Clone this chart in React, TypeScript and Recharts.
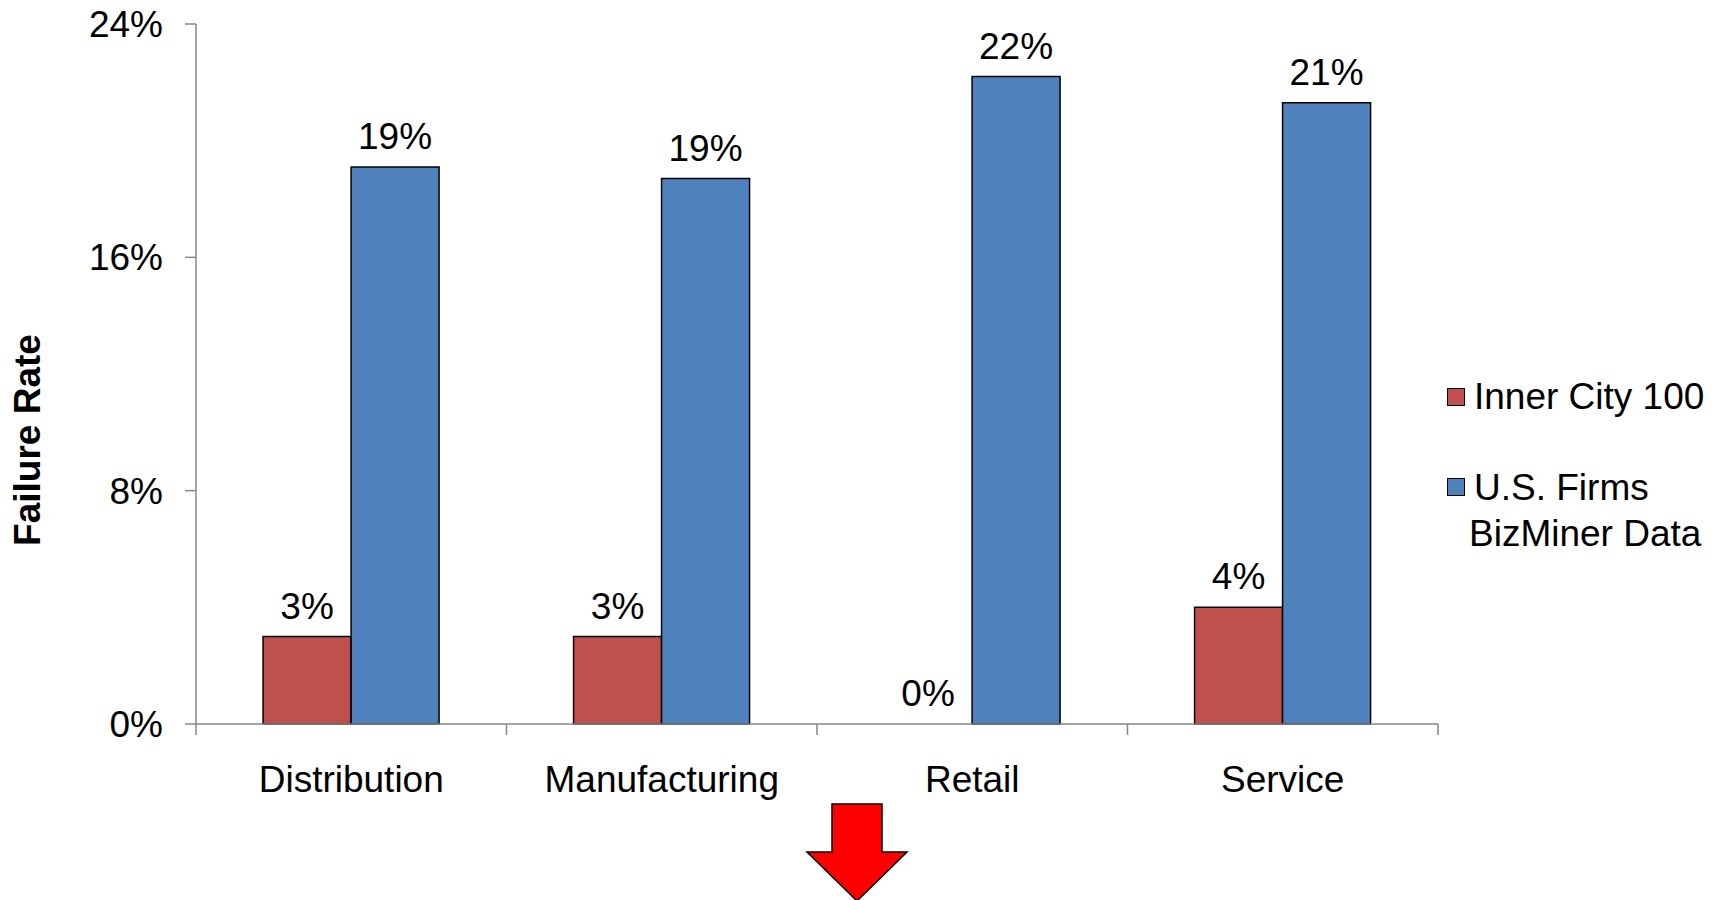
import React from "react";
import { BarChart, Bar, XAxis, YAxis, LabelList, Cell } from "recharts";

const categories = ["Distribution", "Manufacturing", "Retail", "Service"];
const innerCity = [3.0, 3.0, 0, 4.0];
const usFirms = [19.1, 18.7, 22.2, 21.3];
const yTicks = [0, 8, 16, 24];
const seriesNames = ["Inner City 100", "U.S. Firms BizMiner Data"];
const seriesColors = ["#C0504D", "#4F81BD"];

const data = categories.map((c, i) => ({
  name: c,
  inner: innerCity[i],
  us: usFirms[i],
}));

const W = 1723;
const H = 900;
const PLOT_LEFT = 196;
const PLOT_RIGHT = 1438;
const PLOT_TOP = 24;
const PLOT_BOTTOM = 724;
const BAND = (PLOT_RIGHT - PLOT_LEFT) / categories.length;
const FONT = "'Liberation Sans', Arial, sans-serif";
const AXIS_COLOR = "#868686";
const FS = 37;

const XTick = (props: any) => {
  const { x, y, payload, index } = props;
  const last = index === categories.length - 1;
  return (
    <g>
      <line x1={x - BAND / 2} x2={x - BAND / 2} y1={y} y2={y + 11} stroke={AXIS_COLOR} strokeWidth={1.5} />
      {last && (
        <line x1={x + BAND / 2} x2={x + BAND / 2} y1={y} y2={y + 11} stroke={AXIS_COLOR} strokeWidth={1.5} />
      )}
      <text x={x} y={y + 68} textAnchor="middle" fontSize={FS} fontFamily={FONT} fill="#000">
        {payload.value}
      </text>
    </g>
  );
};

const YTitle = () => (
  <text
    x={0}
    y={0}
    transform={`translate(40, 440) rotate(-90)`}
    textAnchor="middle"
    fontSize={37}
    fontWeight="bold"
    fontFamily={FONT}
    fill="#000"
  >
    Failure Rate
  </text>
);

const labelFmt = (v: any) => `${Math.round(Number(v))}%`;
const minSize = (v: any) => (Number(v) === 0 ? 0.01 : 0);

export default function App() {
  return (
    <div style={{ position: "absolute", left: 0, top: 0, width: W, height: H, background: "#fff", fontFamily: FONT }}>
      <BarChart
        width={W}
        height={H}
        data={data}
        margin={{ top: PLOT_TOP, right: W - PLOT_RIGHT, bottom: 0, left: 0 }}
        barCategoryGap="21.6%"
        barGap={0}
      >
        <XAxis
          dataKey="name"
          height={H - PLOT_BOTTOM}
          tickSize={0}
          tickMargin={0}
          tickLine={false}
          axisLine={{ stroke: AXIS_COLOR, strokeWidth: 1.5 }}
          tick={<XTick />}
          interval={0}
        />
        <YAxis
          width={PLOT_LEFT}
          domain={[0, 24]}
          ticks={yTicks}
          tickFormatter={(v: number) => `${v}%`}
          tickSize={11}
          tickMargin={22}
          axisLine={{ stroke: AXIS_COLOR, strokeWidth: 1.5 }}
          tickLine={{ stroke: AXIS_COLOR, strokeWidth: 1.5 }}
          tick={{ fontSize: FS, fill: "#000", fontFamily: FONT }}
          label={{ content: <YTitle /> }}
        />
        <Bar dataKey="inner" name={seriesNames[0]} fill={seriesColors[0]} stroke="#000" strokeWidth={1.5} minPointSize={minSize} isAnimationActive={false}>
          {innerCity.map((v, i) => (
            <Cell key={i} fill={seriesColors[0]} stroke={v === 0 ? "none" : "#000"} />
          ))}
          <LabelList dataKey="inner" position="top" offset={18} formatter={labelFmt} style={{ fontSize: FS, fill: "#000", fontFamily: FONT }} />
        </Bar>
        <Bar dataKey="us" name={seriesNames[1]} fill={seriesColors[1]} stroke="#000" strokeWidth={1.5} isAnimationActive={false}>
          <LabelList dataKey="us" position="top" offset={18} formatter={labelFmt} style={{ fontSize: FS, fill: "#000", fontFamily: FONT }} />
        </Bar>
      </BarChart>

      {/* Legend */}
      <div style={{ position: "absolute", left: 1447, top: 388, width: 18, height: 18, boxSizing: "border-box", border: "1.5px solid #000", background: seriesColors[0] }} />
      <div style={{ position: "absolute", left: 1474, top: 376, fontSize: FS, lineHeight: "42px", color: "#000", whiteSpace: "nowrap" }}>
        {seriesNames[0]}
      </div>
      <div style={{ position: "absolute", left: 1447, top: 478, width: 18, height: 18, boxSizing: "border-box", border: "1.5px solid #000", background: seriesColors[1] }} />
      <div style={{ position: "absolute", left: 1474, top: 467, fontSize: FS, lineHeight: "42px", color: "#000", whiteSpace: "nowrap" }}>
        U.S. Firms
      </div>
      <div style={{ position: "absolute", left: 1469, top: 513, fontSize: FS, lineHeight: "42px", color: "#000", whiteSpace: "nowrap" }}>
        BizMiner Data
      </div>

      {/* Red arrow decoration */}
      <svg style={{ position: "absolute", left: 0, top: 0 }} width={W} height={H} pointerEvents="none">
        <polygon
          points="832,804 882,804 882,852 907,852 857,901 807,852 832,852"
          fill="#FF0000"
          stroke="#000"
          strokeWidth={1.5}
        />
      </svg>
    </div>
  );
}
